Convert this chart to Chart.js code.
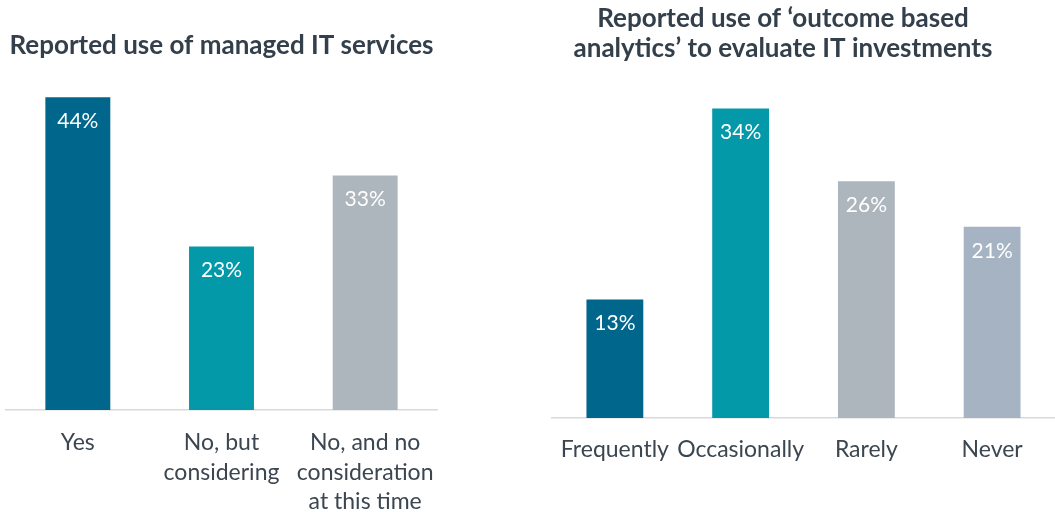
<!DOCTYPE html>
<html>
<head>
<meta charset="utf-8">
<script src="https://cdn.jsdelivr.net/npm/chart.js@4.4.1/dist/chart.umd.min.js"></script>
<style>
  html, body { margin: 0; padding: 0; background: #fff; }
  body { width: 1055px; height: 512px; position: relative; overflow: hidden; }
  canvas { position: absolute; top: 0; }
  #managedChart { left: 0; }
  #analyticsChart { left: 511px; }
</style>
</head>
<body>
<canvas id="managedChart" width="443" height="512"></canvas>
<canvas id="analyticsChart" width="544" height="512"></canvas>
<script>
    // Chart data
    const managedTitle = 'Reported use of managed IT services';
    const managedLabels = ['Yes', ['No, but', 'considering'], ['No, and no', 'consideration', 'at this time']];
    const managedValues = [44, 23, 33];
    const managedColors = ['#00668C', '#0399A8', '#ADB5BD'];

    const analyticsTitle = ['Reported use of \u2018outcome based', 'analytics\u2019 to evaluate IT investments'];
    const analyticsLabels = ['Frequently', 'Occasionally', 'Rarely', 'Never'];
    const analyticsValues = [13, 34, 26, 21];
    const analyticsColors = ['#00668C', '#0399A8', '#ADB5BD', '#A5B3C3'];

    const fontFamily = 'Lato, "Open Sans", sans-serif';
    const labelSize = 23;
    const valueSize = 21;
    const textColor = '#3B4650';
    const titleColor = '#333F4B';

    // White percentage text inside the top of each bar
    const valueLabels = {
        id: 'valueLabels',
        afterDatasetsDraw(chart) {
            const ctx = chart.ctx;
            const meta = chart.getDatasetMeta(0);
            const data = chart.data.datasets[0].data;
            ctx.save();
            ctx.fillStyle = '#FFFFFF';
            ctx.font = `${valueSize}px ${fontFamily}`;
            ctx.textAlign = 'center';
            ctx.textBaseline = 'middle';
            meta.data.forEach((bar, i) => {
                ctx.fillText(`${data[i]}%`, bar.x, bar.y + 24);
            });
            ctx.restore();
        }
    };

    function makeChart(id, cfg) {
        const ctx = document.getElementById(id).getContext('2d');
        return new Chart(ctx, {
            type: 'bar',
            data: {
                labels: cfg.labels,
                datasets: [{
                    data: cfg.values,
                    backgroundColor: cfg.colors,
                    borderWidth: 0,
                    categoryPercentage: 1,
                    barPercentage: 0.452
                }]
            },
            options: {
                responsive: false,
                animation: false,
                layout: { padding: cfg.padding },
                plugins: {
                    legend: { display: false },
                    tooltip: { enabled: false },
                    title: {
                        display: true,
                        text: cfg.title,
                        color: titleColor,
                        font: { family: fontFamily, size: 26, weight: 'bold', lineHeight: 1.15 },
                        padding: cfg.titlePadding
                    }
                },
                scales: {
                    x: {
                        // tick marks are hidden, tickLength only pushes the labels down
                        grid: { display: false, drawTicks: true, tickLength: cfg.labelGap },
                        border: { display: true, color: '#D9D9D9', width: 1.5 },
                        ticks: {
                            color: textColor,
                            padding: 0,
                            maxRotation: 0,
                            autoSkip: false,
                            font: { family: fontFamily, size: labelSize, lineHeight: 29.5 / labelSize }
                        },
                        afterFit(scale) { scale.height = cfg.xHeight; }
                    },
                    y: {
                        display: cfg.yWidth > 0,
                        min: 0,
                        max: cfg.yMax,
                        grid: { display: false },
                        border: { display: false },
                        ticks: { display: false },
                        afterFit(scale) { scale.width = cfg.yWidth; }
                    }
                }
            },
            plugins: [valueLabels]
        });
    }

    makeChart('managedChart', {
        title: managedTitle,
        labels: managedLabels,
        values: managedValues,
        colors: managedColors,
        padding: { left: 6, right: 6, top: 0, bottom: 0 },
        titlePadding: { top: 31, bottom: 18.5 },
        labelGap: 18,
        xHeight: 102,
        yWidth: 0,
        yMax: 46.5
    });

    makeChart('analyticsChart', {
        title: analyticsTitle,
        labels: analyticsLabels,
        values: analyticsValues,
        colors: analyticsColors,
        padding: { left: 0, right: 0, top: 0, bottom: 0 },
        titlePadding: { top: 4, bottom: 20 },
        labelGap: 17,
        xHeight: 94,
        yWidth: 41,
        yMax: 36.7
    });
</script>
</body>
</html>
